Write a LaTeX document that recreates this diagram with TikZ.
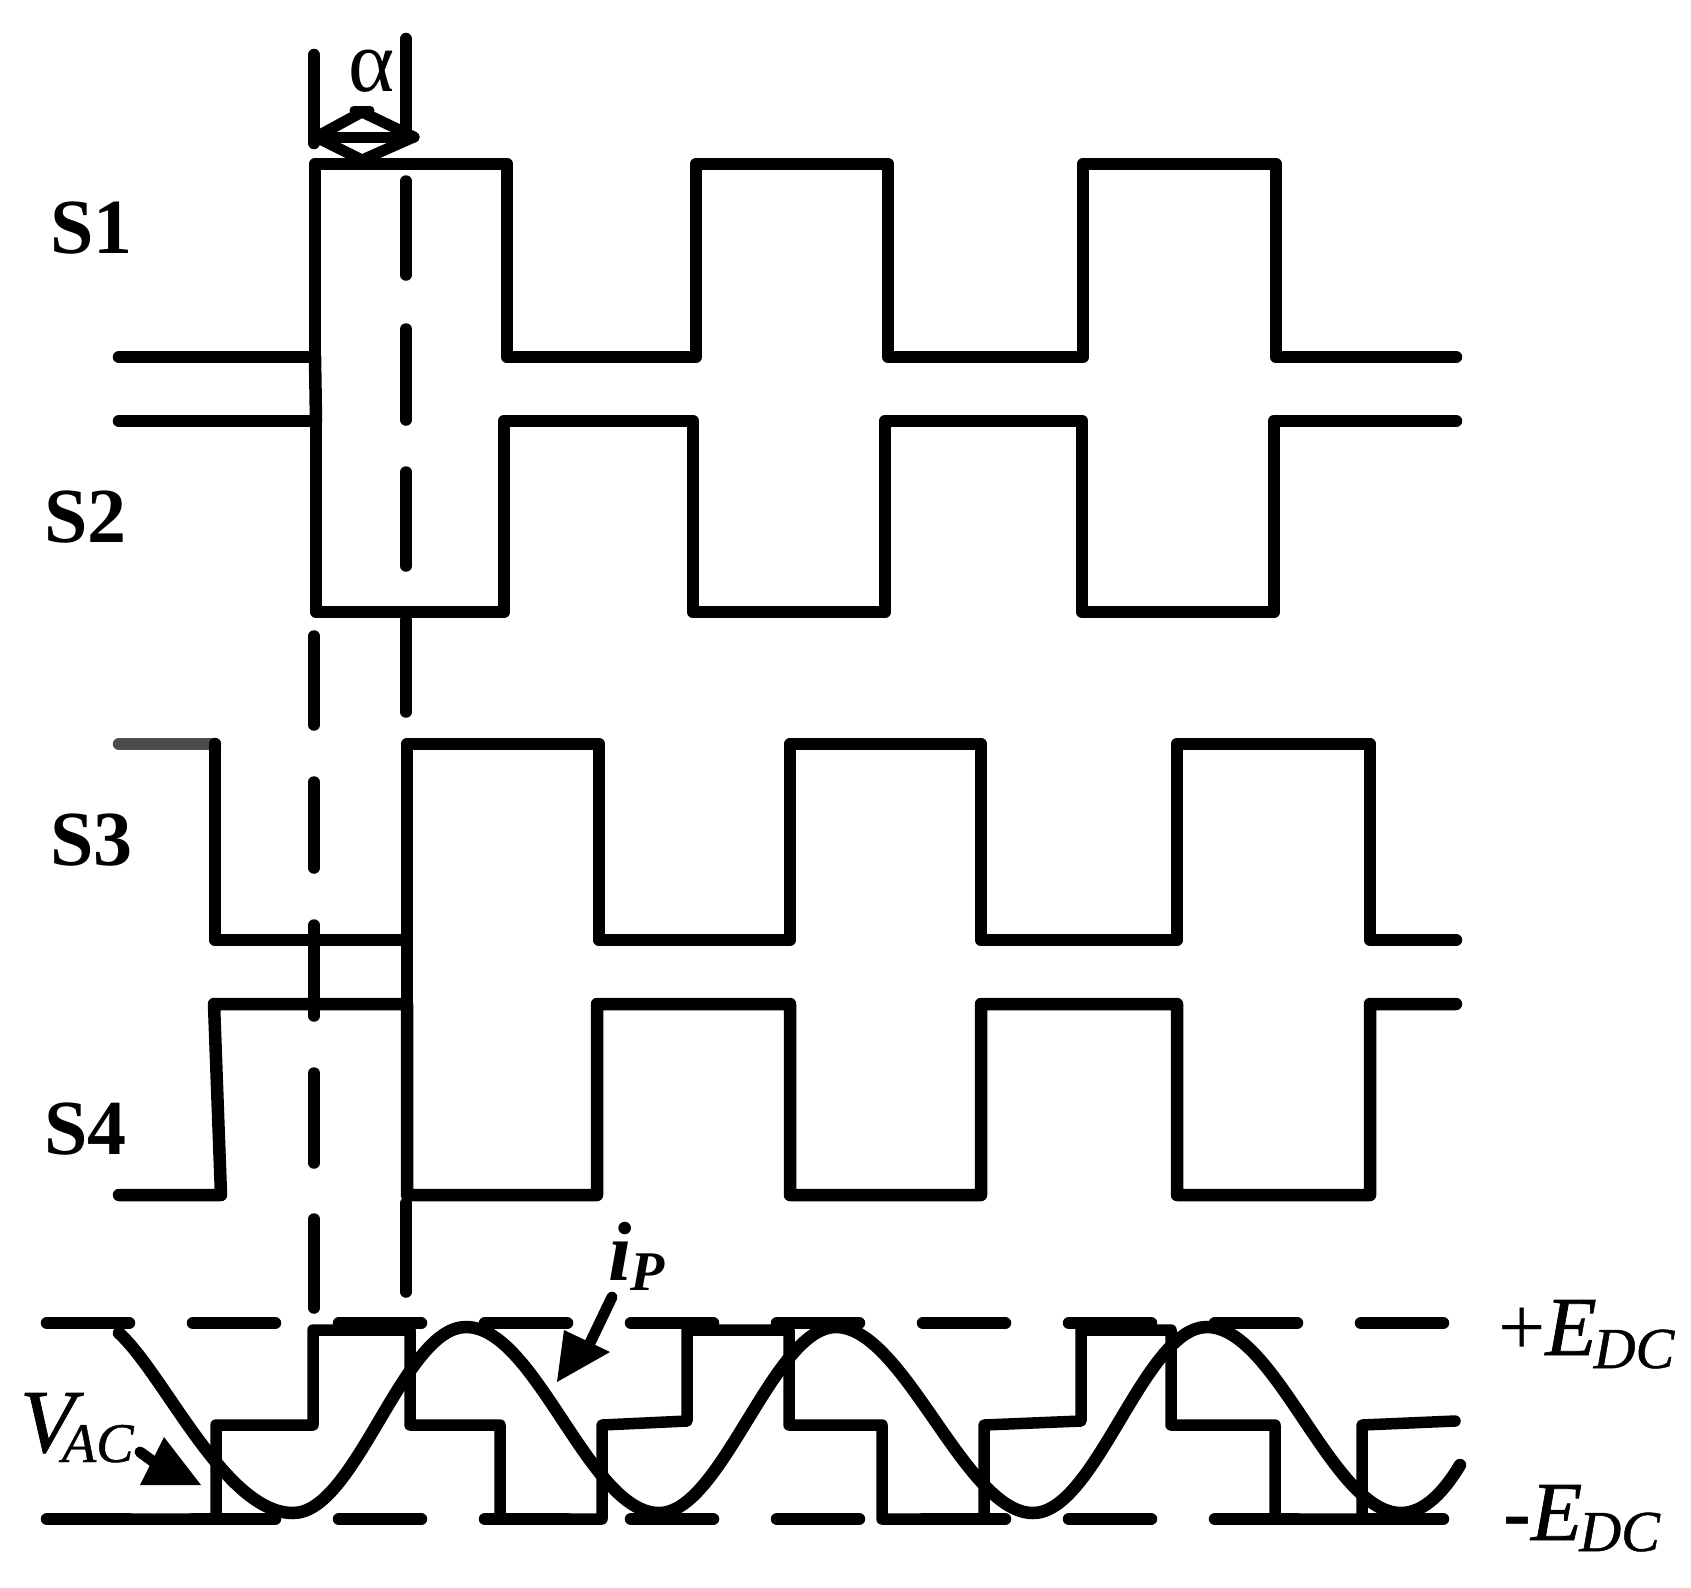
\documentclass[tikz,border=0pt]{standalone}
\usepackage{fontspec}
\setmainfont{Liberation Serif}
\newfontfamily\semi[ItalicFeatures={FakeBold=0.8}]{Liberation Serif}
\tikzset{
  wave/.style={draw=black,line width=12.5pt,line cap=round,line join=round},
  guide/.style={draw=black,line width=12.5pt,line cap=round},
  tick/.style={draw=black,line width=11.5pt,line cap=round},
  lbl/.style={anchor=base west,inner sep=0pt,outer sep=0pt,text=black},
  headfill/.style={fill=black,draw=none}
}
\newcommand{\sz}[1]{\fontsize{#1}{#1}\selectfont}
\begin{document}
\begin{tikzpicture}[x=1pt,y=-1pt]
\useasboundingbox (0,0) rectangle (1691,1587);
\fill[white] (0,0) rectangle (1691,1587);
% alpha markers
\draw[guide] (314,55) -- (314,143);
\draw[guide] (406,39) -- (406,130);
\draw[wave,line width=11pt] (316,137) -- (414,137);
\draw[wave,line width=11pt] (316,137) -- (362,112) -- (414,137) -- (362,160) -- cycle;
\draw[wave,line width=9pt] (354,110) -- (370,110);
\node[lbl] (alpha) at (348,91) {\sz{88}α};
% gate waveforms
\draw[wave] (119,357) -- (315,357) -- (315,164) -- (507,164) -- (507,357) -- (696,357) -- (696,164) -- (888,164) -- (888,357) -- (1083,357) -- (1083,164) -- (1276,164) -- (1276,357) -- (1456,357);
\draw[wave] (119,421) -- (316,421) -- (316,612) -- (504,612) -- (504,421) -- (693,421) -- (693,612) -- (885,612) -- (885,421) -- (1082,421) -- (1082,612) -- (1274,612) -- (1274,421) -- (1456,421);
\draw[wave] (315,357) -- (316,421);
\draw[wave,draw=black!70] (119,744) -- (215,744);
\draw[wave] (215,744) -- (215,940) -- (407,940) -- (407,744) -- (599,744) -- (599,940) -- (790,940) -- (790,744) -- (981,744) -- (981,940) -- (1177,940) -- (1177,744) -- (1370,744) -- (1370,940) -- (1456,940);
\draw[wave] (119,1195) -- (221,1195) -- (214,1004) -- (407,1004) -- (407,1195) -- (597,1195) -- (597,1004) -- (790,1004) -- (790,1195) -- (981,1195) -- (981,1004) -- (1177,1004) -- (1177,1195) -- (1370,1195) -- (1370,1004) -- (1456,1004);
\draw[wave] (407,940) -- (407,1004);
% vertical dashes
\foreach \a/\b in {181/275,329/420,472/566,620/712,1203/1292} \draw[tick] (406,\a) -- (406,\b);
\foreach \a/\b in {636/725,782/868,925/1016,1073/1163,1219/1308} \draw[tick] (314,\a) -- (314,\b);
% DC levels
\foreach \i in {0,...,9} {
  \draw[guide] ({47+146*\i},1323) -- ({129+146*\i},1323);
  \draw[guide] ({47+146*\i},1519) -- ({129+146*\i},1519);
}
% square voltage
\draw[wave,line width=11.5pt] (125,1519) -- (216,1519) -- (216,1425) -- (313,1425) -- (313,1330) -- (410,1330) -- (410,1425) -- (500,1425) -- (500,1519) -- (602,1519) -- (602,1425) -- (687,1421) -- (687,1330) -- (789,1330) -- (789,1425) -- (882,1425) -- (882,1519) -- (984,1519) -- (984,1425) -- (1081,1421) -- (1081,1330) -- (1171,1330) -- (1171,1425) -- (1275,1425) -- (1275,1519) -- (1362,1519) -- (1362,1425) -- (1455,1421);
% current
\draw[wave,line width=12.5pt] (119,1333) .. controls (165,1375) and (225,1513) .. (293,1513)
  .. controls (356,1513) and (403,1327) .. (466,1327)
  .. controls (536,1327) and (589,1513) .. (659,1513)
  .. controls (722,1513) and (773,1327) .. (836,1327)
  .. controls (904,1327) and (965,1513) .. (1033,1513)
  .. controls (1096,1513) and (1144,1327) .. (1207,1327)
  .. controls (1276,1327) and (1332,1513) .. (1401,1513)
  .. controls (1425,1513) and (1445,1490) .. (1460,1465);
% labels
\node[lbl] (s1) at (50,253) {\sz{78}\bfseries S1};
\node[lbl] (s2) at (44,542) {\sz{78}\bfseries S2};
\node[lbl] (s3) at (50,865) {\sz{78}\bfseries S3};
\node[lbl] (s4) at (44,1154) {\sz{78}\bfseries S4};
\node[lbl] (ip) at (608,1280) {\sz{84}\bfseries\itshape i\kern-1pt\raisebox{-10pt}{\sz{56}P}};
\node[lbl] (vac) at (20,1452) {\semi\sz{90}\itshape V\kern-13pt\raisebox{-10pt}{\sz{56}AC}};
\node[lbl] (pe) at (1498,1355) {\semi\sz{84}+\itshape E\kern-3pt\raisebox{-13pt}{\sz{58}DC}};
\node[lbl] (me) at (1503,1540) {\semi\sz{84}\bfseries -\mdseries\itshape E\kern-3pt\raisebox{-11pt}{\sz{58}DC}};
% annotation arrows
\coordinate (ipa) at (612,1297);
\coordinate (ipb) at (589,1345);
\draw[wave,line width=11pt] (ipa) -- (ipb);
\fill[headfill] (557,1382) -- (564,1330) -- (610,1352) -- cycle;
\coordinate (vaa) at (140,1452);
\coordinate (vab) at (158,1465);
\draw[wave,line width=11pt] (vaa) -- (vab);
\fill[headfill] (201,1485) -- (164,1437) -- (140,1485) -- cycle;
\end{tikzpicture}
\end{document}
